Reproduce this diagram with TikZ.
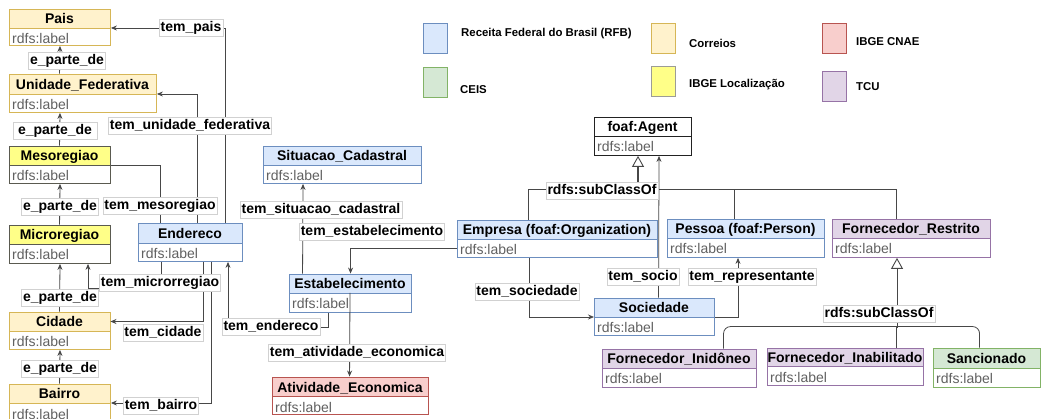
\documentclass[tikz,border=0pt]{standalone}
\usepackage{fontspec}
\setmainfont{Liberation Sans}
\usetikzlibrary{arrows.meta,calc}
\definecolor{rfbF}{HTML}{DAE8FC}\definecolor{rfbD}{HTML}{6C8EBF}
\definecolor{corF}{HTML}{FFF2CC}\definecolor{corD}{HTML}{D6B656}
\definecolor{locF}{HTML}{FFFF88}\definecolor{locD}{HTML}{5A5A50}
\definecolor{cnaeF}{HTML}{F8CECC}\definecolor{cnaeD}{HTML}{B85450}
\definecolor{tcuF}{HTML}{E1D5E7}\definecolor{tcuD}{HTML}{9673A6}
\definecolor{ceisF}{HTML}{D5E8D4}\definecolor{ceisD}{HTML}{82B366}
\definecolor{agF}{HTML}{FFFFFF}\definecolor{agD}{HTML}{222222}
\newcommand\hdrfont{\fontsize{14}{16}\selectfont\bfseries}
\newcommand\bodyfont{\fontsize{14}{16}\selectfont}
\newcommand\legfont{\fontsize{11.4}{13}\selectfont\bfseries}
\tikzset{
  hdr/.style={rectangle, inner sep=0pt, line width=0.9pt, text height=14pt, text depth=3pt, font=\hdrfont},
  bdy/.style={rectangle, inner sep=0pt, fill=white, line width=0.9pt},
  bodytxt/.style={inner sep=0pt, font=\bodyfont, text=black!62},
  ln/.style={draw=black!72, line width=0.8pt},
  arr/.style={ln, -{Stealth[length=6pt,width=5pt]}},
  genarr/.style={draw=black!72, line width=1.6pt, -{Triangle[open,length=11pt,width=12pt,line width=0.9pt,fill=white]}},
  elbl/.style={fill=white, draw=black!18, line width=0.6pt, font=\hdrfont, inner xsep=1.5pt, inner ysep=1pt, text height=11pt, text depth=4pt},
  legsq/.style={rectangle, inner sep=0pt, line width=0.9pt, minimum width=24pt, minimum height=30pt},
  legtxt/.style={inner sep=0pt, font=\legfont, anchor=base west},
}
% #1 name, #2 x1, #3 x2, #4 ytop, #5 ysep, #6 ybottom, #7 colour prefix, #8 title
\newcommand\umlbox[8]{%
  \node[hdr, fill=#7F, draw=#7D, minimum width={#3-#2}, minimum height={#5-#4}] (#1) at ({(#2+#3)/2},{(#4+#5)/2}) {#8};
  \node[bdy, draw=#7D, minimum width={#3-#2}, minimum height={#6-#5}, anchor=north west] (#1-b) at (#2,#5) {};
  \node[bodytxt, anchor=base west] (#1-t) at ({#2+3},{#5+16}) {rdfs:label};
}
\begin{document}
\begin{tikzpicture}[x=1pt,y=-1pt]
\useasboundingbox (0,0) rectangle (1044,419);
\fill[white] (0,0) rectangle (1044,419);

% legend
\node[legsq, fill=rfbF, draw=rfbD] (lg1) at (435,38) {};
\node[legtxt] (lt1) at (461,37) {Receita Federal do Brasil (RFB)};
\node[legsq, fill=ceisF, draw=ceisD] (lg2) at (435,82) {};
\node[legtxt] (lt2) at (460,94) {CEIS};
\node[legsq, fill=corF, draw=corD] (lg3) at (663.5,38) {};
\node[legtxt] (lt3) at (689,48) {Correios};
\node[legsq, fill=locF, draw=locD!60] (lg4) at (663.5,81) {};
\node[legtxt] (lt4) at (689,88) {IBGE Localização};
\node[legsq, fill=cnaeF, draw=cnaeD] (lg5) at (834,38.5) {};
\node[legtxt] (lt5) at (856,46) {IBGE CNAE};
\node[legsq, fill=tcuF, draw=tcuD] (lg6) at (834,86) {};
\node[legtxt] (lt6) at (856,91) {TCU};

% classes
\umlbox{pais}{9}{110}{9}{28}{45}{cor}{Pais}
\umlbox{uf}{9}{156}{74}{94}{112}{cor}{Unidade\_Federativa}
\umlbox{meso}{9}{110}{146}{165}{183}{loc}{Mesoregiao}
\umlbox{micro}{9}{110}{225}{244}{263}{loc}{Microregiao}
\umlbox{cidade}{9}{110}{312}{331}{349}{cor}{Cidade}
\umlbox{bairro}{9}{110}{384}{403}{421}{cor}{Bairro}
\umlbox{end}{138}{242}{223}{243}{261}{rfb}{Endereco}
\umlbox{sit}{263}{421}{146}{165}{183}{rfb}{Situacao\_Cadastral}
\umlbox{estab}{289}{411}{274}{293}{312}{rfb}{Estabelecimento}
\umlbox{ativ}{272}{428}{377}{396}{414}{cnae}{Atividade\_Economica}
\umlbox{agent}{594}{691}{117}{136}{155}{ag}{foaf:Agent}
\umlbox{emp}{457}{657}{220}{239}{257}{rfb}{Empresa (foaf:Organization)}
\umlbox{pes}{667}{824}{219}{238}{257}{rfb}{Pessoa (foaf:Person)}
\umlbox{fr}{832}{990}{219}{238}{257}{tcu}{Fornecedor\_Restrito}
\umlbox{soc}{594}{714}{298}{317}{335}{rfb}{Sociedade}
\umlbox{inid}{602}{756}{349}{368}{387}{tcu}{Fornecedor\_Inidôneo}
\umlbox{inab}{767}{923}{348}{366}{385}{tcu}{Fornecedor\_Inabilitado}
\umlbox{sanc}{933}{1040}{348}{368}{387}{ceis}{Sancionado}

% e_parte_de chain
\draw[arr] ([xshift=51]uf.north west) -- ([xshift=51]pais-b.south west);
\draw[arr] ([xshift=51]meso.north west) -- ([xshift=51]uf-b.south west);
\draw[arr] ([xshift=51]micro.north west) -- ([xshift=51]meso-b.south west);
\draw[arr] ([xshift=51]cidade.north west) -- ([xshift=51]micro-b.south west);
\draw[arr] ([xshift=51]bairro.north west) -- ([xshift=51]cidade-b.south west);

% Endereco links
\draw[arr] ([xshift=88]end.north west) |- (pais-b.north east);
\draw[arr] ([xshift=60]end.north west) |- (uf-b.north east);
\draw[ln] ([xshift=23]end.north west) |- (meso-b.north east);
\draw[arr] ([xshift=23]end-b.south west) -- ++(0,27) -| ([xshift=79]micro-b.south west);
\draw[arr] ([xshift=65]end-b.south west) |- (cidade.east);
\draw[arr] ([xshift=73]end-b.south west) |- (bairro-b.north east);

% Estabelecimento links
\draw[arr] ([xshift=39]estab-b.south west) -- ++(0,15) -| ([xshift=90]end-b.south west);
\draw[arr] ([xshift=14]estab.north west) -- ([xshift=40]sit-b.south west);
\draw[arr] (emp-b.west) -| ([xshift=62]estab.north west);
\draw[arr] ([xshift=61]estab-b.north west) -- ([xshift=78]ativ.north west);

% Empresa / Pessoa / Sociedade
\draw[arr] ([xshift=72]emp-b.south west) |- (soc-b.north west);
\draw[arr] ([xshift=65]soc.north west) -- ([xshift=65]agent-b.south west);
\draw[arr] (soc-b.north east) -| ([xshift=71]pes-b.south west);

% subclass of foaf:Agent
\draw[ln] ([xshift=72]emp.north west) -- ++(0,-30) -| ([xshift=65]fr.north west);
\draw[ln] ([xshift=68]pes.north west) -- ++(0,-29);
\draw[genarr] ($(agent-b.south west)+(44,35)$) -- ([xshift=44]agent-b.south west);

% subclass of Fornecedor_Restrito
\draw[ln, rounded corners=7pt] ([xshift=122]inid.north west) -- ++(0,-22) -| ([xshift=47]sanc.north west);
\draw[ln] ([xshift=130]inab.north west) -- ++(0,-21);
\draw[genarr, line width=0.8pt] ($(fr-b.south west)+(65,70)$) -- ([xshift=65]fr-b.south west);

% edge labels
\node[elbl] (l1) at (67,61) {e\_parte\_de};
\node[elbl, inner xsep=5pt] (l2) at (55,131) {e\_parte\_de};
\node[elbl] (l3) at (60,207) {e\_parte\_de};
\node[elbl] (l4) at (60,298) {e\_parte\_de};
\node[elbl] (l5) at (60,369) {e\_parte\_de};
\node[elbl] (l6) at (191,28) {tem\_pais};
\node[elbl] (l7) at (190,126) {tem\_unidade\_federativa};
\node[elbl] (l8) at (160,206) {tem\_mesoregiao};
\node[elbl] (l9) at (160,283) {tem\_microrregiao};
\node[elbl] (l10) at (163,333) {tem\_cidade};
\node[elbl] (l11) at (161,406) {tem\_bairro};
\node[elbl] (l12) at (271,327) {tem\_endereco};
\node[elbl] (l13) at (321,210) {tem\_situacao\_cadastral};
\node[elbl] (l14) at (372,232) {tem\_estabelecimento};
\node[elbl] (l15) at (357,353) {tem\_atividade\_economica};
\node[elbl] (l16) at (602,191) {rdfs:subClassOf};
\node[elbl] (l17) at (527,292) {tem\_sociedade};
\node[elbl] (l18) at (643,277) {tem\_socio};
\node[elbl] (l19) at (752,277) {tem\_representante};
\node[elbl] (l20) at (879,314) {rdfs:subClassOf};
\end{tikzpicture}
\end{document}
